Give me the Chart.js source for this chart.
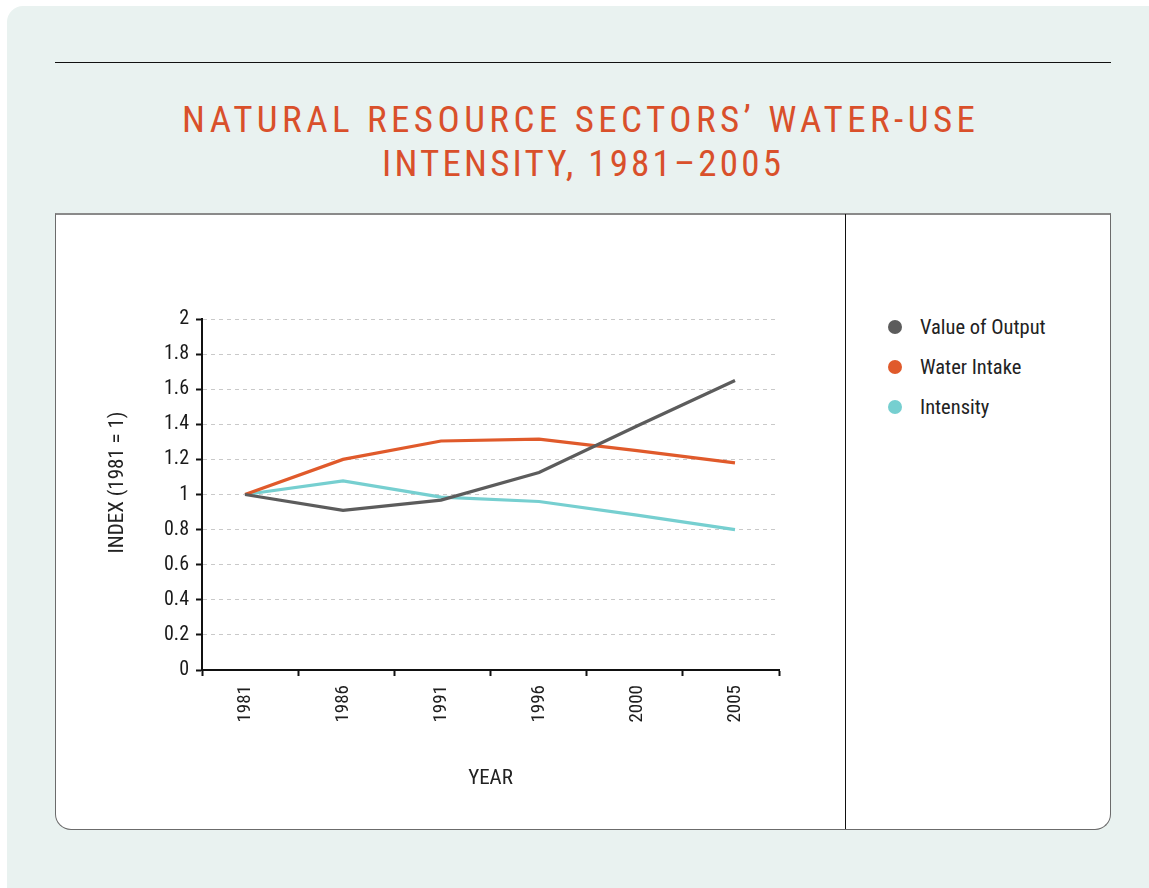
<!DOCTYPE html>
<html>
<head>
<meta charset="utf-8">
<script src="https://cdn.jsdelivr.net/npm/chart.js@4.4.1/dist/chart.umd.min.js"></script>
<style>
  html, body { margin: 0; padding: 0; background: #ffffff; width: 1149px; height: 888px; overflow: hidden; }
  body { position: relative; font-family: 'Liberation Sans Narrow', 'Roboto Condensed', 'Arial Narrow', 'Liberation Sans', sans-serif; }
  #panel { position: absolute; left: 7px; top: 6px; width: 1160px; height: 900px; background: #e9f2f0; border-radius: 16px; }
  #rule { position: absolute; left: 55px; top: 62px; width: 1056px; height: 0; border-top: 1.5px solid #111; }
  .tline { position: absolute; color: #d9502b; font-size: 37px; line-height: 37px; white-space: nowrap; }
  #box { position: absolute; left: 55px; top: 213px; width: 1056px; height: 617px; box-sizing: border-box; background: #fff;
         border: 1px solid #6b6b6b; border-top: 2px solid #8a8a8a; border-radius: 0 0 16px 16px; }
  #divider { position: absolute; left: 845px; top: 214px; width: 1px; height: 615px; background: #111; }
  #chartWrap { position: absolute; left: 55px; top: 213px; width: 790px; height: 616px; }
  #legend { position: absolute; left: 880px; top: 307px; }
  .litem { position: relative; height: 40px; width: 230px; }
  .ldot { position: absolute; left: 8px; top: 13px; width: 14px; height: 14px; border-radius: 50%; }
  .ltext { position: absolute; left: 40px; top: 0; line-height: 40px; font-size: 20.5px; color: #222; white-space: nowrap; }
</style>
</head>
<body>
<div id="panel"></div>
<div id="rule"></div>
<div class="tline" id="t1" style="top:101px">NATURAL RESOURCE SECTORS’ WATER-USE</div>
<div class="tline" id="t2" style="top:145px">INTENSITY, 1981–2005</div>
<div id="box"></div>
<div id="divider"></div>
<div id="chartWrap"><canvas id="c" width="790" height="616"></canvas></div>
<div id="legend"></div>
<script>
// ---- data ----
const years = ['1981', '1986', '1991', '1996', '2000', '2005'];
const valueOfOutput = [1.0, 0.91, 0.968, 1.125, 1.39, 1.65];
const waterIntake = [1.0, 1.2, 1.305, 1.315, 1.25, 1.18];
const intensity = [1.0, 1.077, 0.985, 0.96, 0.882, 0.8];
const yTickLabels = ['0', '0.2', '0.4', '0.6', '0.8', '1', '1.2', '1.4', '1.6', '1.8', '2'];
const seriesNames = ['Value of Output', 'Water Intake', 'Intensity'];
const seriesColors = ['#5c5c5c', '#e05a2b', '#76cfd0'];

// fit title lines (letter spacing + centring)
function fitLine(el, targetW, centerX) {
  el.style.letterSpacing = '0px';
  const n = el.textContent.length;
  const w = el.getBoundingClientRect().width;
  const ls = (targetW - w) / (n - 1);
  el.style.letterSpacing = ls + 'px';
  el.style.left = (centerX - targetW / 2) + 'px';
}
fitLine(document.getElementById('t1'), 793, 578.5);
fitLine(document.getElementById('t2'), 399, 581.5);

const FONT = "'Liberation Sans Narrow', 'Roboto Condensed', 'Arial Narrow', 'Liberation Sans', sans-serif";
Chart.defaults.font.family = FONT;

// x placement of the categories on the axis (layout only)
const X_MIN = -0.439, X_MAX = 5.449, N_BANDS = 6;

const datasets = [valueOfOutput, waterIntake, intensity].map((d, i) => ({
  label: seriesNames[i],
  data: years.map((_, j) => ({ x: j, y: d[j] })),
  borderColor: seriesColors[i],
  backgroundColor: seriesColors[i],
  borderWidth: 3.2,
  pointRadius: 0,
  pointHoverRadius: 0,
  tension: 0,
  fill: false,
  borderCapStyle: 'butt'
}));

const chart = new Chart(document.getElementById('c'), {
  type: 'line',
  data: { labels: years, datasets },
  options: {
    responsive: false,
    animation: false,
    devicePixelRatio: 1,
    layout: { padding: { top: 106, right: 66, left: 0, bottom: 0 } },
    plugins: { legend: { display: false }, tooltip: { enabled: false }, title: { display: false } },
    scales: {
      x: {
        type: 'linear',
        min: X_MIN, max: X_MAX,
        afterBuildTicks: (s) => {
          const t = [];
          const step = (X_MAX - X_MIN) / N_BANDS;
          for (let k = 0; k <= N_BANDS; k++) {
            t.push({ value: X_MIN + k * step, b: true });
            if (k < years.length) t.push({ value: k, b: false });
          }
          t.sort((a, c) => a.value - c.value);
          s.ticks = t;
        },
        grid: {
          display: true, drawOnChartArea: false, drawTicks: true, tickLength: 6,
          tickColor: (ctx) => (ctx.tick && ctx.tick.b) ? '#111' : 'rgba(0,0,0,0)', tickWidth: 2
        },
        border: { display: true, color: '#111', width: 2 },
        ticks: {
          autoSkip: false, minRotation: 90, maxRotation: 90, padding: 9, color: '#1e1e1e', font: { size: 19 },
          callback: function (v, i, ticks) { return ticks[i].b ? '' : years[Math.round(v)]; }
        },
        title: { display: true, text: 'YEAR', color: '#222', font: { size: 21 }, padding: { bottom: 38, top: 0 } },
        afterFit: (s) => { s.height = 159; }
      },
      y: {
        min: 0, max: 2,
        ticks: {
          stepSize: 0.2, padding: 7, color: '#1a1a1a', font: { size: 20 },
          callback: (v, i) => yTickLabels[i]
        },
        grid: {
          color: (ctx) => (ctx.tick && ctx.tick.value === 0) ? 'rgba(0,0,0,0)' : '#c9c9c9',
          lineWidth: 1, drawTicks: true, tickLength: 6,
          tickColor: '#111', tickWidth: 2, tickBorderDash: []
        },
        border: { display: true, color: '#111', width: 2, dash: [4, 4] },
        title: { display: true, text: '\u00a0\u00a0\u00a0\u00a0\u00a0INDEX (1981 = 1)', color: '#222', font: { size: 21 }, padding: { top: 50, bottom: 0 } },
        afterFit: (s) => { s.width = 147; }
      }
    }
  }
});

// legend built from the chart's datasets
const leg = document.getElementById('legend');
chart.data.datasets.forEach(ds => {
  const item = document.createElement('div'); item.className = 'litem';
  const dot = document.createElement('div'); dot.className = 'ldot'; dot.style.background = ds.borderColor;
  const tx = document.createElement('div'); tx.className = 'ltext'; tx.textContent = ds.label;
  item.appendChild(dot); item.appendChild(tx); leg.appendChild(item);
});
</script>
</body>
</html>
